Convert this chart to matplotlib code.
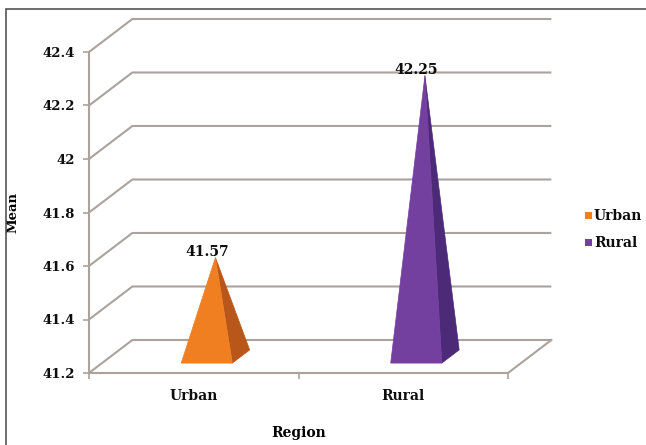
import matplotlib
matplotlib.use("Agg")
import matplotlib.pyplot as plt
from matplotlib.patches import Polygon, Rectangle

# mean score by region
regions = ["Urban", "Rural"]
means = [41.57, 42.25]
front_colors = ["#F07F22", "#7440A0"]
side_colors = ["#B9561A", "#4D2A78"]

y_ticks = [41.2, 41.4, 41.6, 41.8, 42.0, 42.2, 42.4]
y_tick_labels = ["41.2", "41.4", "41.6", "41.8", "42", "42.2", "42.4"]

GRID = "#ABA29D"
FONT = "DejaVu Serif"
INK = "#0d0d0d"

fig = plt.figure(figsize=(6.46, 4.45), dpi=100)
fig.patch.set_facecolor("white")

# outer frame, cut off at right and bottom
fig.add_artist(Rectangle((6 / 646, -0.05), 1.1, 1 - 9 / 445 + 0.05,
                         transform=fig.transFigure, fill=False,
                         edgecolor="#555555", lw=1.2))

# axes sits on the front plane of the 3d box
ax = fig.add_axes([89 / 646, 1 - 373 / 445, 419 / 646, 321 / 445])
ax.set_xlim(0, 2)
ax.set_ylim(y_ticks[0], y_ticks[-1])
ax.patch.set_alpha(0)
for s in ax.spines.values():
    s.set_visible(False)

# depth offset of the back wall, in data units
DX = 0.207
DY = 0.1234
ybase = y_ticks[0]

# back wall grid lines with their diagonals to the axis
for v in y_ticks:
    ax.plot([0, DX, 2 + DX], [v, v + DY, v + DY], color=GRID, lw=1.5,
            clip_on=False, solid_capstyle="butt", zorder=1)

# floor
ax.plot([0, 2, 2 + DX], [ybase, ybase, ybase + DY], color=GRID, lw=1.5,
        clip_on=False, zorder=1)
# value axis
ax.plot([0, 0], [ybase, y_ticks[-1]], color=GRID, lw=1.5, clip_on=False,
        zorder=1)

ax.set_yticks(y_ticks)
ax.set_yticklabels(y_tick_labels, fontfamily=FONT, fontweight="bold",
                   fontsize=9.5, color=INK)
ax.tick_params(axis="y", length=4, width=1.2, color=GRID, pad=6)

ax.set_xticks([0, 1, 2])
ax.set_xticklabels([])
ax.tick_params(axis="x", length=4, width=1.2, color=GRID)
for i, name in enumerate(regions):
    ax.text(i + 0.5, ybase - 0.06, name, ha="center", va="top",
            fontfamily=FONT, fontweight="bold", fontsize=10, color=INK)

# pyramids
half_w = 0.122
d0, d1 = 0.3, 0.7
for i, (v, fc, sc) in enumerate(zip(means, front_colors, side_colors)):
    c = i + 0.5
    fl = (c - half_w + d0 * DX, ybase + d0 * DY)
    fr = (c + half_w + d0 * DX, ybase + d0 * DY)
    br = (c + half_w + d1 * DX, ybase + d1 * DY)
    apex = (c + 0.5 * DX, v + 0.5 * DY)
    ax.add_patch(Polygon([fr, br, apex], closed=True, facecolor=sc,
                         edgecolor=sc, lw=0.5, clip_on=False, zorder=3))
    ax.add_patch(Polygon([fl, fr, apex], closed=True, facecolor=fc,
                         edgecolor=fc, lw=0.5, clip_on=False, zorder=4))
    ax.annotate(f"{v:.2f}", (c + d0 * DX, v + 0.5 * DY),
                xytext=(0, -1), textcoords="offset points",
                ha="center", va="bottom", fontfamily=FONT,
                fontweight="bold", fontsize=10, color=INK, zorder=5)

ax.set_ylabel("Mean", fontfamily=FONT, fontweight="bold", fontsize=9.5,
              labelpad=0)
ax.yaxis.set_label_coords(-0.165, 0.5)
ax.set_xlabel("Region", fontfamily=FONT, fontweight="bold", fontsize=10)
ax.xaxis.set_label_coords(0.5, -0.165)

# legend
for k, (name, fc) in enumerate(zip(regions, front_colors)):
    yy = 1 - (216 + 27 * k) / 445
    fig.add_artist(Rectangle((585 / 646, yy - 3 / 445), 7 / 646, 7 / 445,
                             transform=fig.transFigure, facecolor=fc,
                             edgecolor="none"))
    fig.text(594 / 646, yy, name, ha="left", va="center", fontfamily=FONT,
             fontweight="bold", fontsize=10, color=INK)

fig.savefig("out.png", dpi=100)
